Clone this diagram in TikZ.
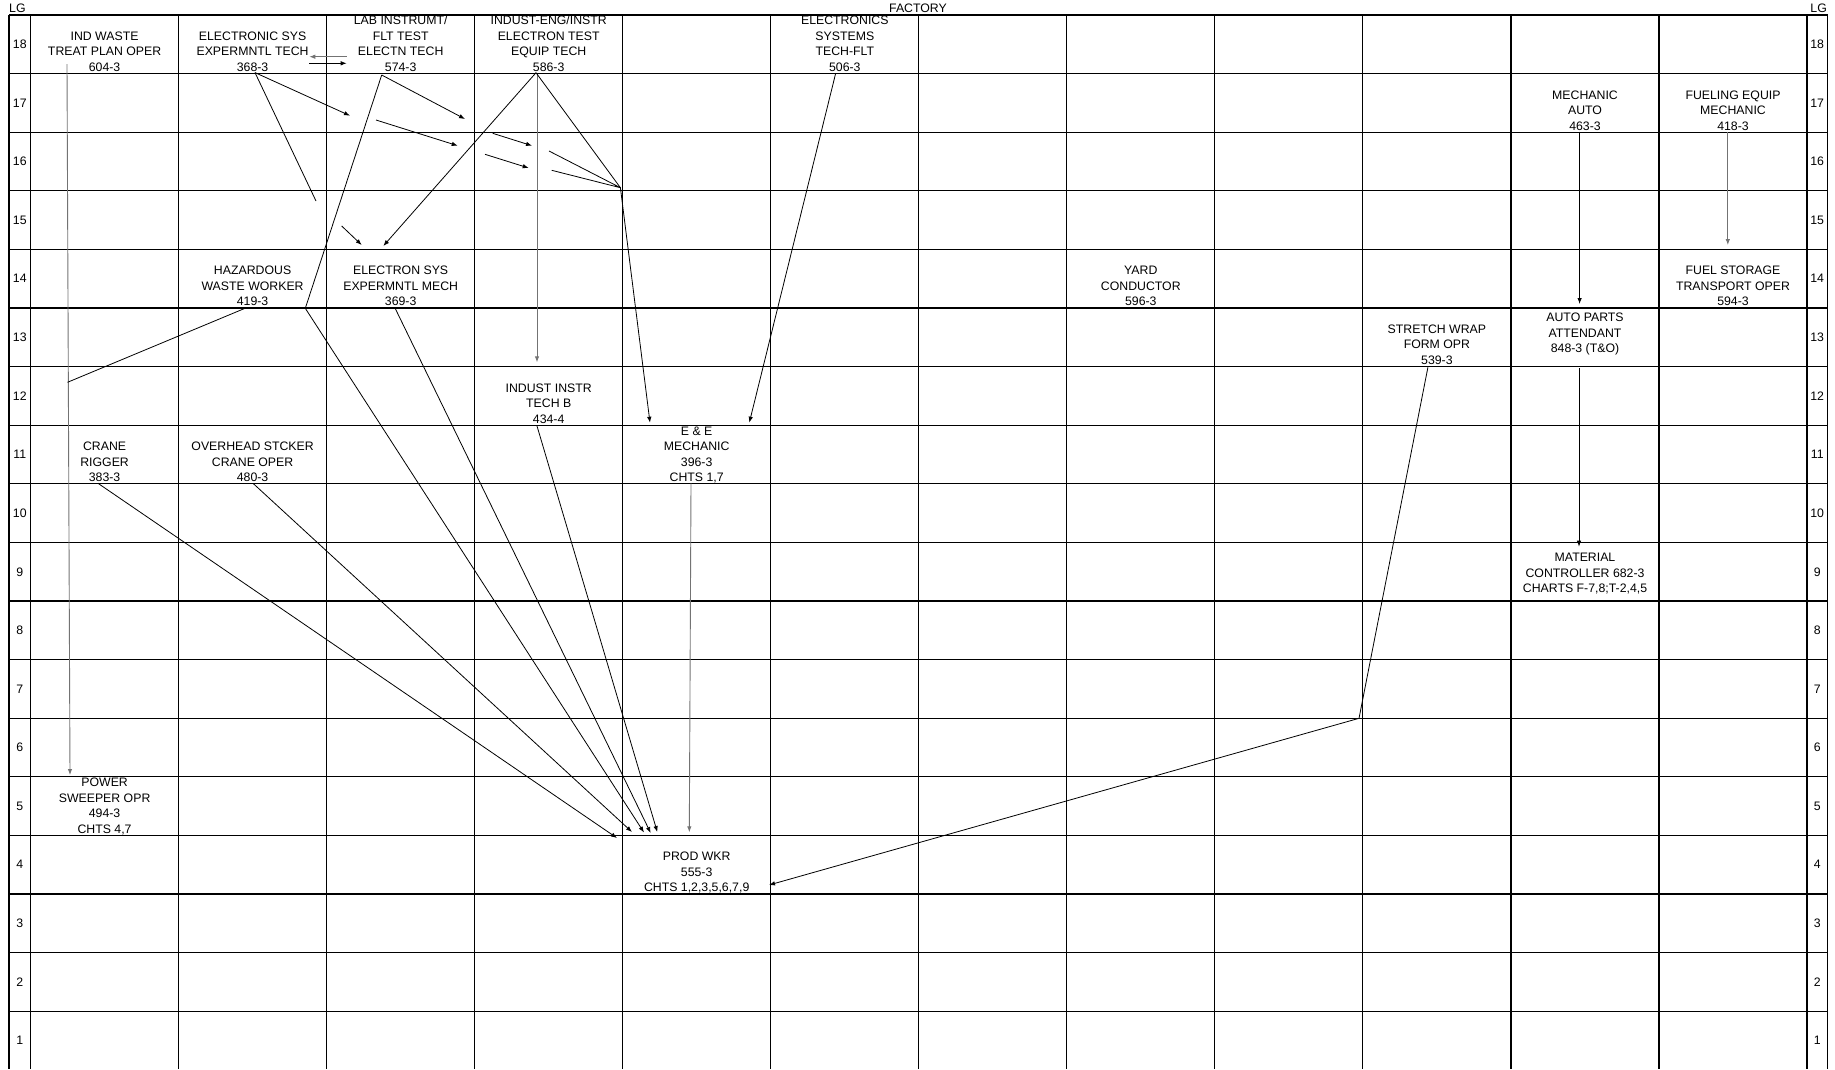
\documentclass[tikz,border=0pt]{standalone}
\usepackage{fontspec}
\setmainfont{Liberation Sans}
\usetikzlibrary{arrows.meta}

\tikzset{
  job/.style={align=center, anchor=south, inner sep=2pt, text depth=0pt,
    font=\fontsize{12.3}{15.5}\selectfont},
  lbl/.style={inner sep=0pt, text depth=0pt, font=\fontsize{12.3}{15.5}\selectfont},
  rule/.style={line width=1.2pt},
  bare/.style={line width=0.8pt},
  link/.style={line width=0.8pt, -{Latex[length=6pt,width=4.5pt]}},
  faint/.style={draw=black!55, line width=0.9pt}
}

\begin{document}
\begin{tikzpicture}[x=1pt,y=-1pt]
  \useasboundingbox (0,0) rectangle (1835,1069);
  % grid
  \foreach \k in {0,...,17}
    \draw[rule] (9,15+58.6*\k) -- (1827.5,15+58.6*\k);
  \draw[rule] (9,15) -- (9,1069) (1827.5,15) -- (1827.5,1069);
  \foreach \i in {0,...,12}
    \draw[rule] (30.6+148.03*\i,15) -- (30.6+148.03*\i,1069);
  \foreach \r in {1,...,18} {
    \node[lbl] at (19.8,{15+58.6*(18.5-\r)}) {\r};
    \node[lbl] at (1817.2,{15+58.6*(18.5-\r)}) {\r};
  }
  \node[lbl,anchor=base west] at (9,12.8) {LG};
  \node[lbl,anchor=base] at (918,12.8) {FACTORY};
  \node[lbl,anchor=base east] at (1827,12.8) {LG};

  % jobs
  \node[job] (j604) at (104.6,73.6) {IND WASTE\\TREAT PLAN OPER\\604-3};
  \node[job] (j368) at (252.6,73.6) {ELECTRONIC SYS\\EXPERMNTL TECH\\368-3};
  \node[job] (j574) at (400.7,73.6) {LAB INSTRUMT/\\FLT TEST\\ELECTN TECH\\574-3};
  \node[job] (j586) at (548.7,73.6) {INDUST-ENG/INSTR\\ELECTRON TEST\\EQUIP TECH\\586-3};
  \node[job] (j506) at (844.8,73.6) {ELECTRONICS\\SYSTEMS\\TECH-FLT\\506-3};
  \node[job] (j463) at (1585,132.2) {MECHANIC\\AUTO\\463-3};
  \node[job] (j418) at (1733,132.2) {FUELING EQUIP\\MECHANIC\\418-3};
  \node[job] (j419) at (252.6,308) {HAZARDOUS\\WASTE WORKER\\419-3};
  \node[job] (j369) at (400.7,308) {ELECTRON SYS\\EXPERMNTL MECH\\369-3};
  \node[job] (j596) at (1140.8,308) {YARD\\CONDUCTOR\\596-3};
  \node[job] (j594) at (1733,308) {FUEL STORAGE\\TRANSPORT OPER\\594-3};
  \node[job] (j539) at (1436.9,366.6) {STRETCH WRAP\\FORM OPR\\539-3};
  \node[job] (j848) at (1585,355) {AUTO PARTS\\ATTENDANT\\848-3 (T\&O)};
  \node[job] (j434) at (548.7,425.2) {INDUST INSTR\\TECH B\\434-4};
  \node[job] (j383) at (104.6,483.8) {CRANE\\RIGGER\\383-3};
  \node[job] (j480) at (252.6,483.8) {OVERHEAD STCKER\\CRANE OPER\\480-3};
  \node[job] (j396) at (696.7,483.8) {E \& E\\MECHANIC\\396-3\\CHTS 1,7};
  \node[job] (j682) at (1585,595) {MATERIAL\\CONTROLLER 682-3\\CHARTS F-7,8;T-2,4,5};
  \node[job] (j494) at (104.6,835.4) {POWER\\SWEEPER OPR\\494-3\\CHTS 4,7};
  \node[job] (j555) at (696.7,894) {PROD WKR\\555-3\\CHTS 1,2,3,5,6,7,9};

  % loose ends
  \coordinate (g1) at (67.5,382.3);
  \coordinate (f1) at (350,115.7);
  \coordinate (f2) at (316,201);
  \coordinate (f3) at (465,119);
  \coordinate (e1) at (341.7,226);
  \coordinate (k1) at (305.3,308.3);
  \coordinate (k2) at (1359,718.3);
  \coordinate (jn) at (620.4,187.7);
  \coordinate (a1) at (376,120);
  \coordinate (a2) at (457.7,145.7);
  \coordinate (b1) at (492.7,133.3);
  \coordinate (b2) at (532,145.7);
  \coordinate (c1) at (485,154.3);
  \coordinate (c2) at (528.7,168);
  \coordinate (d1) at (549,151);
  \coordinate (d2) at (551.7,170.3);

  % left column
  \draw[link,faint] ([shift={(-37.6,-9.6)}]j604.south) -- ([shift={(-34.6,-60.4)}]j494.south);
  \draw[bare] ([shift={(-7.6,0.3)}]j419.south) -- (g1);

  % row 18 to 14
  \draw[link,faint] ([shift={(-54,-16.9)}]j574.south) -- ([shift={(56.7,-16.9)}]j368.south);
  \draw[link] ([shift={(56.7,-10.3)}]j368.south) -- ([shift={(-54,-10.3)}]j574.south);
  \draw[link] ([shift={(2.4,-1)}]j368.south) -- (f1);
  \draw[bare] ([shift={(2.4,-1)}]j368.south) -- (f2);
  \draw[link] (e1) -- ([shift={(-39,-63)}]j369.south);
  \draw[link] ([shift={(-19,1.4)}]j574.south) -- (f3);
  \draw[link] ([shift={(-19,1.4)}]j574.south) -- (k1) -- ([shift={(-52.7,-61.5)}]j555.south);
  \draw[link] (a1) -- (a2);
  \draw[link] (b1) -- (b2);
  \draw[link] (c1) -- (c2);
  \draw[link] ([shift={(-12.7,-0.9)}]j586.south) -- ([shift={(-17.4,-62)}]j369.south);
  \draw[link,faint] ([shift={(-11.7,0)}]j586.south) -- ([shift={(-11.7,-62.9)}]j434.south);
  \draw[link] ([shift={(-12.7,-0.9)}]j586.south) -- (jn) -- ([shift={(-46.7,-61.1)}]j396.south);
  \draw[bare] (d1) -- (jn) (d2) -- (jn);
  \draw[link] ([shift={(-9.3,0.4)}]j506.south) -- ([shift={(52.6,-61.1)}]j396.south);

  % into prod wkr
  \draw[link] ([shift={(-5.7,0)}]j369.south) -- ([shift={(-46,-61)}]j555.south);
  \draw[link] ([shift={(-11.7,0.8)}]j434.south) -- ([shift={(-39.4,-62)}]j555.south);
  \draw[link,faint] ([shift={(-5.7,-0.5)}]j396.south) -- ([shift={(-7.4,-61.7)}]j555.south);
  \draw[link] ([shift={(-6.6,-0.5)}]j383.south) -- ([shift={(-79.7,-56)}]j555.south);
  \draw[link] ([shift={(0.4,-0.5)}]j480.south) -- ([shift={(-64.7,-62)}]j555.south);
  \draw[link] ([shift={(-9,0.7)}]j539.south) -- (k2) -- ([shift={(72.3,-9)}]j555.south);

  % right side
  \draw[link] ([shift={(-5.4,-0.5)}]j463.south) -- ([shift={(-5.4,-51)}]j848.south);
  \draw[link,faint] ([shift={(-5.2,-0.5)}]j418.south) -- ([shift={(-5.2,-63)}]j594.south);
  \draw[link] ([shift={(-6,13.3)}]j848.south) -- ([shift={(-6,-48.3)}]j682.south);
\end{tikzpicture}
\end{document}
